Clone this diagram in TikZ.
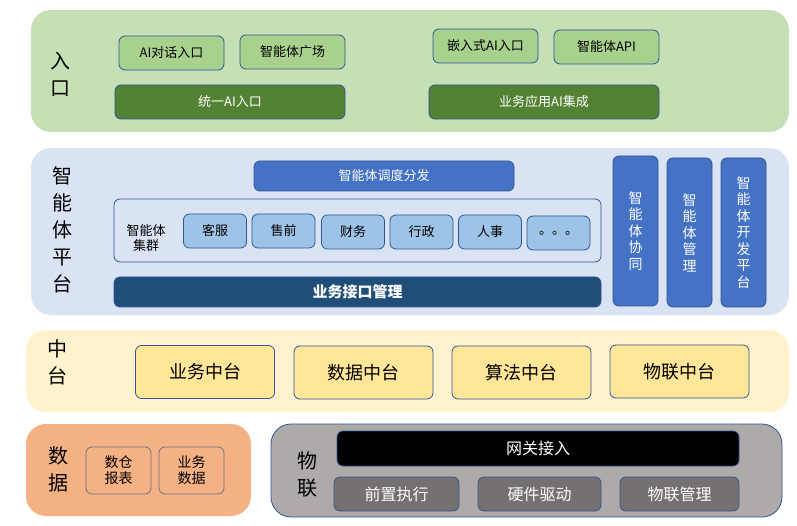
\documentclass[tikz,border=0pt]{standalone}
\usepackage{fontspec}
\setmainfont{Noto Sans CJK SC}
\usepackage{xcolor}
\usetikzlibrary{positioning}
\definecolor{bandgreen}{HTML}{C5E0B4}
\definecolor{boxgreen}{HTML}{A9D18E}
\definecolor{darkgreen}{HTML}{548235}
\definecolor{bandblue}{HTML}{DAE3F3}
\definecolor{midblue}{HTML}{4472C4}
\definecolor{lightblue}{HTML}{9DC3E6}
\definecolor{navy}{HTML}{1F4E79}
\definecolor{edgeblue}{HTML}{2F5597}
\definecolor{bandyellow}{HTML}{FFF2CC}
\definecolor{boxyellow}{HTML}{FFE699}
\definecolor{bandorange}{HTML}{F4B183}
\definecolor{bandgray}{HTML}{AEAAAA}
\definecolor{boxgray}{HTML}{767171}

\begin{document}
\begin{tikzpicture}[x=1pt,y=-1pt,
  band/.style={rounded corners=20pt,inner sep=0pt},
  bandlab/.style={align=center,font=\fontsize{20}{27}\selectfont},
  box/.style={draw=edgeblue,line width=0.8pt,rounded corners=6pt,inner sep=0pt,align=center,font=\fontsize{13}{15}\selectfont},
  vbox/.style={box,fill=midblue,text=white,font=\fontsize{14}{16.5}\selectfont,minimum width=45,minimum height=150},
  zbox/.style={box,fill=boxyellow,font=\fontsize{18}{20}\selectfont,minimum width=139,minimum height=53},
  gbox/.style={box,fill=boxgray,text=white,font=\fontsize{16}{18}\selectfont,minimum height=34},
  cbox/.style={box,fill=lightblue,minimum width=63,minimum height=34}]
\useasboundingbox (0,0) rectangle (797,526);
% entry layer
\fill[bandgreen,band] (31,10) rectangle (789,132);
\node[bandlab] (entrylab) at (60,74) {入\\口};
\node[box,fill=boxgreen,minimum width=105,minimum height=34] (chat) at (171.5,53) {AI对话入口};
\node[box,fill=boxgreen,minimum width=105,minimum height=34] (square) at (292.5,52) {智能体广场};
\node[box,fill=darkgreen,text=white,minimum width=230,minimum height=34] (unified) at (230,102) {统一AI入口};
\node[box,fill=boxgreen,minimum width=105,minimum height=34] (embed) at (485.5,46) {嵌入式AI入口};
\node[box,fill=boxgreen,minimum width=105,minimum height=34] (api) at (606.5,47) {智能体API};
\node[box,fill=darkgreen,text=white,minimum width=230,minimum height=34] (integ) at (544,102) {业务应用AI集成};
% agent platform layer
\fill[bandblue,band] (31,148) rectangle (789,315);
\node[bandlab] (platlab) at (62,230) {智\\能\\体\\平\\台};
\node[box,fill=midblue,text=white,minimum width=260,minimum height=30] (dispatch) at (384,176) {智能体调度分发};
\node[box,minimum width=487,minimum height=63] (cluster) at (357.5,230.5) {};
\node[align=center,font=\fontsize{13}{15}\selectfont] (clusterlab) at (146,238) {智能体\\集群};
\node[cbox] (service) at (215,231) {客服};
\node[cbox] (presale) at (283.5,231) {售前};
\node[cbox] (finance) at (353,232) {财务};
\node[cbox] (admin) at (421.5,232) {行政};
\node[cbox] (hr) at (490,232) {人事};
\node[cbox] (more) at (558.5,233) {。。。};
\node[box,fill=navy,text=white,minimum width=487,minimum height=30,font=\fontsize{15}{17}\selectfont\bfseries] (iface) at (357.5,292) {业务接口管理};
\node[vbox] (collab) at (635.5,231) {智\\能\\体\\协\\同};
\node[vbox,minimum height=149] (manage) at (689.5,232.5) {智\\能\\体\\管\\理};
\node[vbox,minimum height=149] (devplat) at (743.5,232.5) {智\\能\\体\\开\\发\\平\\台};
% middle platform layer
\fill[bandyellow,band] (26,330) rectangle (789,412);
\node[bandlab] (midlab) at (57,362) {中\\台};
\node[zbox] (bizmid) at (205,372) {业务中台};
\node[zbox] (datamid) at (363.5,372.5) {数据中台};
\node[zbox] (algomid) at (521.5,372.5) {算法中台};
\node[zbox] (iotmid) at (679.5,371.5) {物联中台};
% data layer
\fill[bandorange,band] (26,424) rectangle (251,516);
\node[bandlab] (datalab) at (58,469) {数\\据};
\node[box,draw=gray!70!edgeblue,minimum width=65,minimum height=47,font=\fontsize{14}{16}\selectfont] (report) at (118.5,470.5) {数仓\\报表};
\node[box,draw=gray!70!edgeblue,minimum width=65,minimum height=47,font=\fontsize{14}{16}\selectfont] (bizdata) at (191.5,470.5) {业务\\数据};
% iot layer
\filldraw[fill=bandgray,draw=edgeblue,line width=0.8pt,band] (271,424) rectangle (782,517);
\node[bandlab] (iotlab) at (307,474) {物\\联};
\node[box,fill=black,text=white,minimum width=402,minimum height=35,font=\fontsize{16}{18}\selectfont] (gateway) at (538,448.5) {网关接入};
\node[gbox,minimum width=125] (front) at (396.5,494) {前置执行};
\node[gbox,minimum width=123] (driver) at (539.5,494) {硬件驱动};
\node[gbox,minimum width=119] (iotmgmt) at (679.5,494) {物联管理};
\end{tikzpicture}
\end{document}
